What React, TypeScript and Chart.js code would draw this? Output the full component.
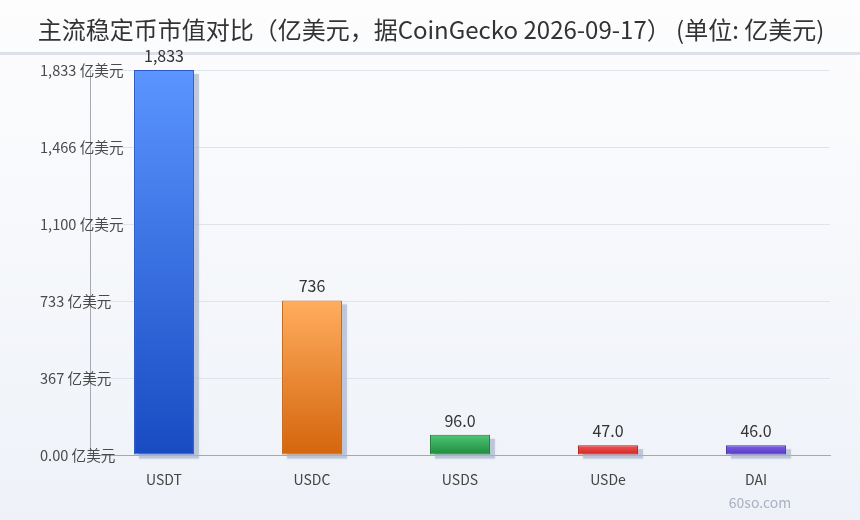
import React, { useEffect, useRef } from "react";
import { Chart, registerables } from "chart.js";

Chart.register(...registerables);

const categories = ["USDT", "USDC", "USDS", "USDe", "DAI"];
const marketCaps = [1833, 736, 96, 47, 46];
const yTickValues = [0, 366.6, 733.2, 1099.8, 1466.4, 1833];
const titleText = "主流稳定币市值对比（亿美元，据CoinGecko 2026-09-17） (单位: 亿美元)";
const unitLabel = "亿美元";
const watermark = "60so.com";

const topColors = ["#5b95ff", "#ffad5e", "#4fc576", "#f25656", "#7d62e8"];
const bottomColors = ["#184bc2", "#d4650c", "#1d8a3a", "#d02222", "#5535c0"];
const borderColors = ["#2a58c8", "#c86818", "#1f7a35", "#b81e1e", "#4a30a8"];

const FONT = "'Noto Sans CJK SC', 'Noto Sans', sans-serif";

function fmtTick(v: number): string {
  if (v === 0) return "0.00";
  return Math.round(v).toLocaleString("en-US");
}
function fmtVal(v: number): string {
  if (v >= 100) return Math.round(v).toLocaleString("en-US");
  return v.toFixed(1);
}

export default function App() {
  const ref = useRef<HTMLCanvasElement | null>(null);
  useEffect(() => {
    document.body.style.margin = "0";
    const canvas = ref.current;
    if (!canvas) return;

    const bgPlugin = {
      id: "bgPlugin",
      beforeDraw(chart: any) {
        const { ctx, width, height } = chart;
        ctx.save();
        const g = ctx.createLinearGradient(0, 0, 0, height);
        g.addColorStop(0, "#fdfdfe");
        g.addColorStop(1, "#eef2f8");
        ctx.fillStyle = g;
        ctx.fillRect(0, 0, width, height);
        ctx.fillStyle = "#dde0e8";
        ctx.fillRect(0, 52, width, 3);
        ctx.fillStyle = "#333333";
        ctx.font = `24px ${FONT}`;
        ctx.textAlign = "center";
        ctx.textBaseline = "middle";
        ctx.fillText(titleText, width / 2 + 1, 30);
        ctx.restore();
      },
    };

    const shadowPlugin = {
      id: "shadowPlugin",
      beforeDatasetsDraw(chart: any) {
        const ctx = chart.ctx;
        const meta = chart.getDatasetMeta(0);
        ctx.save();
        ctx.fillStyle = "rgba(170,180,205,0.6)";
        ctx.shadowColor = "rgba(170,180,205,0.5)";
        ctx.shadowBlur = 2;
        meta.data.forEach((bar: any) => {
          const w = bar.width;
          const top = Math.min(bar.y, bar.base);
          const h = Math.abs(bar.base - bar.y);
          ctx.fillRect(bar.x - w / 2 + 5, top + 4, w, h);
        });
        ctx.restore();
      },
    };

    const labelPlugin = {
      id: "labelPlugin",
      afterDraw(chart: any) {
        const { ctx } = chart;
        const meta = chart.getDatasetMeta(0);
        ctx.save();
        ctx.font = `16px ${FONT}`;
        ctx.fillStyle = "#333333";
        ctx.textAlign = "center";
        ctx.textBaseline = "bottom";
        meta.data.forEach((bar: any, i: number) => {
          ctx.fillText(fmtVal(marketCaps[i]), bar.x, bar.y - 6);
        });
        const ys = chart.scales.y;
        ctx.font = `14.6px ${FONT}`;
        ctx.fillStyle = "#4a4a4a";
        ctx.textAlign = "left";
        ctx.textBaseline = "middle";
        yTickValues.forEach((v) => {
          ctx.fillText(`${fmtTick(v)} ${unitLabel}`, 40, ys.getPixelForValue(v));
        });
        ctx.font = `14px ${FONT}`;
        ctx.fillStyle = "#aab0bf";
        ctx.textAlign = "center";
        ctx.fillText(watermark, 760, 503);
        ctx.restore();
      },
    };

    const chart = new Chart(canvas, {
      type: "bar",
      data: {
        labels: categories,
        datasets: [
          {
            data: marketCaps,
            backgroundColor: (c: any) => {
              const ch = c.chart;
              const area = ch.chartArea;
              if (!area || c.dataIndex === undefined) return topColors[0];
              const ys = ch.scales.y;
              const yTop = ys.getPixelForValue(marketCaps[c.dataIndex]);
              const yBot = ys.getPixelForValue(0);
              const g = ch.ctx.createLinearGradient(0, yTop, 0, Math.max(yBot, yTop + 1));
              g.addColorStop(0, topColors[c.dataIndex]);
              g.addColorStop(1, bottomColors[c.dataIndex]);
              return g;
            },
            borderColor: borderColors,
            borderWidth: 1,
            borderSkipped: false,
            barPercentage: 0.81,
            categoryPercentage: 0.5,
          },
        ],
      },
      options: {
        responsive: false,
        animation: false,
        layout: { padding: { left: 40, right: 30, top: 70, bottom: 0 } },
        plugins: {
          legend: { display: false },
          tooltip: { enabled: false },
          title: { display: false },
        },
        scales: {
          x: {
            grid: { display: false },
            border: { display: true, color: "#a4a8b0", width: 1 },
            ticks: {
              color: "#444",
              font: { family: FONT, size: 14 },
              padding: 8,
            },
            afterFit: (s: any) => {
              s.height = 65;
            },
          },
          y: {
            min: 0,
            max: 1833,
            afterBuildTicks: (s: any) => {
              s.ticks = yTickValues.map((v) => ({ value: v }));
            },
            afterFit: (s: any) => {
              s.width = 50;
            },
            grid: { color: "#dfe3ea", drawTicks: false },
            border: { display: true, color: "#a4a8b0", width: 1 },
            ticks: { display: false },
          },
        },
      },
      plugins: [bgPlugin, shadowPlugin, labelPlugin],
    } as any);
    return () => chart.destroy();
  }, []);
  return <canvas ref={ref} width={860} height={520} style={{ display: "block" }} />;
}
